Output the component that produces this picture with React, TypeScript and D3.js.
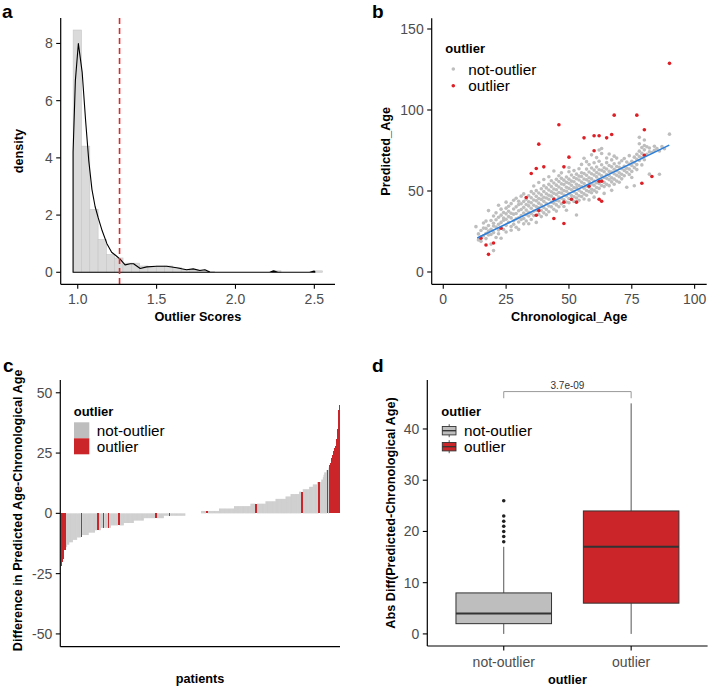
import React from 'react';
import * as d3 from 'd3';

const FONT = '"Liberation Sans", Arial, Helvetica, sans-serif';
const TICK_COL = '#4D4D4D';
const GREY = '#BEBEBE';
const RED_FILL = '#CC2529';
const RED_PT = '#DD1F26';

// ---------------- Panel a: outlier scores ----------------
const histStart = 0.971;
const histBinWidth = 0.0527;
const histDensity = [8.47, 4.41, 2.2, 1.15, 0.62, 0.5, 0.32, 0.32, 0.22, 0.16, 0.22, 0.22, 0.17, 0.1, 0.08, 0.08, 0.03, 0, 0, 0, 0, 0, 0, 0, 0.05, 0, 0, 0, 0, 0.05];
const densX = [0.9705, 0.985, 1.004, 1.028, 1.05, 1.07, 1.09, 1.11, 1.13, 1.155, 1.185, 1.215, 1.245, 1.27, 1.3, 1.333, 1.354, 1.396, 1.438, 1.5, 1.564, 1.627, 1.69, 1.732, 1.774, 1.806, 1.838, 1.87, 2.216, 2.242, 2.269, 2.469, 2.498, 2.503];
const densY = [4.2, 6.7, 8.0, 7.0, 5.3, 3.9, 2.9, 2.3, 1.9, 1.45, 1.0, 0.7, 0.57, 0.45, 0.26, 0.3, 0.3, 0.13, 0.19, 0.21, 0.21, 0.16, 0.09, 0.12, 0.06, 0.09, 0.01, 0, 0, 0.05, 0, 0, 0.04, 0.03];
const cutoffScore = 1.265;
const aXTicks = [1.0, 1.5, 2.0, 2.5];
const aYTicks = [0, 2, 4, 6, 8];

// ---------------- Panel b: scatter ----------------
const outlierPts: [number, number][] = [
  [15, 20.8], [17, 16.7], [18, 10.9], [20, 17.9], [23, 27], [33, 46], [35, 60.8], [37, 63.9], [38, 78.9],
  [37, 35], [38, 37.9], [40, 64.9], [44, 44.9], [44, 33], [46, 90.9], [48, 64.9], [48, 43.1], [48, 29.9],
  [50, 70.9], [51, 44.9], [53, 43.1], [56, 82.8], [58, 53], [60, 84.1], [60, 74.8], [62, 84.1], [62, 56],
  [62, 44.9], [63, 56], [63, 43.7], [65, 82.8], [67, 84.9], [68, 96.8], [77, 96.8], [79, 54.8], [80, 87.8],
  [80, 72.1], [83, 58.9], [90, 128.8],
];
const notOutlierPts: [number, number][] = [
  [13, 28], [14, 23.5], [14, 19.8], [15, 25.6], [15, 21.7], [15, 18.9], [16, 27.1], [16, 22.4], [16, 30.2],
  [17, 23.8], [17, 26.9], [17, 20.6], [17, 31.4], [18, 37.9], [18, 25.2], [18, 22.9], [18, 28.7],
  [19, 26.4], [19, 31.8], [19, 23.1], [19, 17.2], [20, 13.2], [20, 28.4], [20, 34.6], [20, 24.3], [20, 30.1],
  [21, 27.7], [21, 32.2], [21, 21.3], [21, 36.5], [22, 29.5], [22, 33.8], [22, 25.9], [22, 23.6], [22, 41.2],
  [23, 30.6], [23, 35.1], [23, 27.4], [23, 20.8], [23, 38.8], [24, 31.9], [24, 36.7], [24, 26.2], [24, 33.3],
  [25, 43.1], [25, 32.6], [25, 28.8], [25, 35.9], [25, 24.7], [25, 39.4], [26, 34.2], [26, 30.7], [26, 37.5], [26, 40.6],
  [27, 33.4], [27, 28.1], [27, 36.3], [27, 42.2], [27, 25.8], [28, 35.7], [28, 31.6], [28, 38.9], [28, 29.4], [28, 44.3],
  [29, 36.1], [29, 32.8], [29, 40.2], [29, 27.6], [29, 45.5], [30, 37.8], [30, 33.5], [30, 41.6], [30, 30.9], [30, 43.7], [30, 26.3],
  [31, 38.6], [31, 34.9], [31, 42.1], [31, 32.4], [31, 46.8], [32, 36.4], [32, 39.9], [32, 43.5], [32, 33.1], [32, 29.7], [32, 48.2],
  [33, 38.2], [33, 41.7], [33, 35.4], [33, 44.9], [33, 31.5], [34, 40.8], [34, 36.9], [34, 43.3], [34, 47.1], [34, 34.6], [34, 29.8],
  [35, 39.3], [35, 42.7], [35, 36.1], [35, 45.8], [35, 49.6], [35, 32.4], [36, 41.2], [36, 37.6], [36, 44.4], [36, 48.3], [36, 34.8], [36, 53.1],
  [37, 40.4], [37, 43.9], [37, 46.7], [37, 38.1], [37, 50.2], [37, 30.6], [38, 42.5], [38, 45.3], [38, 39.7], [38, 48.8], [38, 35.6], [38, 55.2],
  [39, 41.3], [39, 44.8], [39, 47.6], [39, 37.9], [39, 51.4], [39, 34.2], [40, 43.6], [40, 46.1], [40, 39.8], [40, 49.7], [40, 53.2], [40, 36.5], [40, 57.1],
  [41, 42.2], [41, 45.7], [41, 48.3], [41, 38.6], [41, 51.9], [41, 35.3], [42, 44.9], [42, 47.4], [42, 40.7], [42, 50.6], [42, 54.1], [42, 37.2], [42, 58.8],
  [43, 43.1], [43, 46.8], [43, 49.5], [43, 40.2], [43, 52.7], [43, 56.3], [44, 42.4], [44, 48.6], [44, 51.2], [44, 45.5], [44, 54.9], [44, 38.7], [44, 62.3],
  [45, 44.2], [45, 47.9], [45, 50.8], [45, 41.4], [45, 53.6], [45, 57.2], [45, 37.6], [46, 46.3], [46, 49.1], [46, 43.8], [46, 52.5], [46, 55.9], [46, 40.3], [46, 59.4],
  [47, 45.6], [47, 48.7], [47, 51.3], [47, 42.1], [47, 54.4], [47, 57.8], [47, 61.2], [48, 47.5], [48, 50.2], [48, 53.9], [48, 44.6], [48, 56.7], [48, 40.4],
  [49, 46.9], [49, 49.8], [49, 52.3], [49, 43.2], [49, 55.4], [49, 58.6], [49, 38.1], [50, 48.4], [50, 51.6], [50, 45.3], [50, 54.8], [50, 57.3], [50, 42.7], [50, 61.9], [50, 64.5],
  [51, 47.2], [51, 50.7], [51, 53.5], [51, 44.8], [51, 56.1], [51, 59.9], [52, 49.6], [52, 52.1], [52, 46.4], [52, 55.7], [52, 58.3], [52, 43.5], [52, 62.6],
  [53, 48.3], [53, 51.9], [53, 54.2], [53, 45.7], [53, 57.6], [53, 60.4], [53, 35.2], [54, 50.5], [54, 53.3], [54, 47.1], [54, 56.8], [54, 59.2], [54, 44.3], [54, 63.7],
  [55, 49.2], [55, 52.8], [55, 55.5], [55, 46.6], [55, 58.9], [55, 61.3], [55, 66.4], [56, 51.7], [56, 54.6], [56, 48.2], [56, 57.4], [56, 60.8], [56, 45.1], [56, 70.2],
  [57, 50.3], [57, 53.1], [57, 56.9], [57, 47.4], [57, 59.7], [57, 63.5], [57, 68.1], [58, 52.4], [58, 55.8], [58, 49.6], [58, 58.2], [58, 61.7], [58, 66.3], [58, 44.5],
  [59, 51.1], [59, 54.3], [59, 57.5], [59, 48.9], [59, 60.6], [59, 64.2], [59, 72.3], [60, 53.6], [60, 56.2], [60, 50.4], [60, 59.8], [60, 62.9], [60, 67.4], [60, 46.2],
  [61, 52.2], [61, 55.1], [61, 58.7], [61, 61.4], [61, 64.8], [61, 49.3], [61, 70.6], [62, 75.3], [62, 54.7], [62, 57.2], [62, 60.5], [62, 63.1], [62, 51.6], [62, 68.4],
  [63, 53.4], [63, 56.6], [63, 59.3], [63, 62.8], [63, 66.2], [63, 73.1], [63, 76.2], [64, 55.3], [64, 58.4], [64, 61.9], [64, 52.7], [64, 64.3], [64, 48.5],
  [65, 54.1], [65, 57.8], [65, 60.2], [65, 63.6], [65, 67.5], [65, 70.4], [66, 56.9], [66, 59.5], [66, 62.1], [66, 53.3], [66, 65.7], [66, 72.8],
  [67, 55.6], [67, 58.1], [67, 61.7], [67, 64.9], [67, 69.2], [67, 50.4], [68, 57.3], [68, 60.6], [68, 63.4], [68, 54.2], [68, 66.8], [68, 71.5],
  [69, 56.2], [69, 59.7], [69, 62.5], [69, 65.1], [69, 70.3], [70, 58.8], [70, 61.2], [70, 64.6], [70, 67.3], [70, 55.4],
  [71, 57.5], [71, 60.3], [71, 63.8], [71, 68.7], [72, 59.4], [72, 62.7], [72, 65.2], [72, 70.1], [73, 52.3], [73, 61.6], [73, 64.1], [73, 67.9],
  [74, 60.2], [74, 63.5], [74, 66.6], [74, 71.8], [75, 62.1], [75, 65.8], [75, 68.4], [75, 58.3], [76, 53.2], [76, 64.4], [76, 67.6], [76, 70.9],
  [77, 66.3], [77, 69.5], [77, 72.7], [77, 63.2], [78, 83.1], [78, 68.8], [78, 71.3], [78, 74.6], [78, 79.2], [79, 70.5], [79, 73.2], [79, 76.8], [79, 66.1],
  [80, 75.4], [80, 78.1], [80, 69.3], [80, 81.5], [81, 72.6], [81, 77.3], [82, 60.4], [82, 74.2], [82, 76.5], [83, 73.8], [84, 75.1], [84, 77.6],
  [85, 76.2], [86, 60.3], [86, 74.7], [87, 77.4], [88, 76.1], [90, 85.1],
];
const fitX = [13.5, 89.9];
const fitY = [21.0, 78.3];
const bXTicks = [0, 25, 50, 75, 100];
const bYTicks = [0, 50, 100, 150];

// ---------------- Panel c: sorted differences ----------------
const diffLevels = [-24, -22, -20, -19, -17, -15, -14, -13, -12, -11, -10, -9, -8, -7, -6, -5, -4, -3, -2, -1, 0,
  1, 2, 3, 4, 5, 6, 7, 8, 9, 10, 11, 12, 13, 14, 15, 16, 17, 18, 19, 20, 21, 22, 23, 24, 25, 26, 27, 28, 29, 31, 35, 40, 43, 45];
const diffCounts = [1, 1, 1, 1, 1, 2, 2, 3, 5, 6, 7, 9, 9, 8, 14, 18, 14, 14, 28, 30, 22,
  25, 21, 23, 21, 14, 14, 7, 12, 5, 9, 5, 6, 6, 2, 1, 1, 3, 3, 1, 1, 1, 1, 1, 1, 1, 1, 1, 1, 1, 1, 1, 1, 1, 1];
const outlierBarIdx = [0, 1, 2, 3, 4, 5, 6, 28, 29, 51, 52, 59, 60, 66, 67, 80, 81, 132, 133, 151, 152, 203, 204, 272, 273, 336, 337,
  360, 361, 372, 375, 376, 377, 378, 379, 380, 381, 382, 383, 384, 385, 386, 387, 388, 389];
const cYTicks = [-50, -25, 0, 25, 50];

// ---------------- Panel d: boxplot ----------------
const groups = ['not-outlier', 'outlier'];
const boxLow = [0, 0];
const boxQ1 = [2, 6];
const boxMed = [4, 17];
const boxQ3 = [8, 24];
const boxHigh = [17, 45];
const notOutlierFliers = [18, 19, 20, 21, 22, 23, 26];
const pLabel = '3.7e-09';
const bracketTop = 47.3;
const bracketFoot = 46.0;
const dYTicks = [0, 10, 20, 30, 40];

const legendLabels = ['not-outlier', 'outlier'];

function YAxis({ x, top, bottom, scale, ticks, fmt }: any) {
  return (
    <g>
      <line x1={x} x2={x} y1={top} y2={bottom} stroke="#000" strokeWidth={1.2} />
      {ticks.map((t: number) => (
        <g key={t}>
          <line x1={x - 4.5} x2={x} y1={scale(t)} y2={scale(t)} stroke="#000" strokeWidth={1.1} />
          <text x={x - 8} y={scale(t)} dy="0.36em" textAnchor="end" fontSize={14} fill={TICK_COL}>{fmt ? fmt(t) : t}</text>
        </g>
      ))}
    </g>
  );
}

function XAxis({ y, left, right, scale, ticks, fmt, labelY }: any) {
  return (
    <g>
      <line x1={left} x2={right} y1={y} y2={y} stroke="#000" strokeWidth={1.2} />
      {ticks.map((t: any) => (
        <g key={String(t)}>
          <line x1={scale(t)} x2={scale(t)} y1={y} y2={y + 4.5} stroke="#000" strokeWidth={1.1} />
          <text x={scale(t)} y={labelY} textAnchor="middle" fontSize={14} fill={TICK_COL}>{fmt ? fmt(t) : t}</text>
        </g>
      ))}
    </g>
  );
}

function PanelA() {
  const left = 60.7, right = 335, top = 18, bottom = 284.3;
  const x = d3.scaleLinear().domain([0.892, 2.631]).range([left, right]);
  const y = d3.scaleLinear().domain([-0.42, 8.89]).range([bottom, top]);
  const pts: [number, number][] = densX.map((d, i) => [x(d), y(densY[i])]);
  const poly = [[x(densX[0]), y(0)] as [number, number], ...pts, [x(densX[densX.length - 1]), y(0)] as [number, number]];
  const linePath = d3.line()(poly) + 'Z';
  return (
    <g>
      {histDensity.map((h, i) => {
        const x0 = histStart + i * histBinWidth;
        return (
          <rect key={i} x={x(x0)} width={x(x0 + histBinWidth) - x(x0)} y={y(h)} height={y(0) - y(h)}
            fill="#DADADA" stroke="#C6C6C6" strokeWidth={0.6} />
        );
      })}
      <path d={linePath} fill="none" stroke="#000" strokeWidth={1.1} strokeLinejoin="round" />
      <line x1={x(cutoffScore)} x2={x(cutoffScore)} y1={top} y2={bottom} stroke="#E02A2A" strokeWidth={1.6} strokeDasharray="6,4" />
      <YAxis x={left} top={top} bottom={bottom} scale={y} ticks={aYTicks} />
      <XAxis y={bottom} left={left} right={right} scale={x} ticks={aXTicks} fmt={d3.format('.1f')} labelY={304} />
      <text x={(left + right) / 2} y={321} textAnchor="middle" fontSize={12.7} fontWeight="bold">Outlier Scores</text>
      <text transform={`translate(22.5,${(top + bottom) / 2}) rotate(-90)`} textAnchor="middle" fontSize={12.7} fontWeight="bold">density</text>
      <text x={2} y={18} fontSize={19} fontWeight="bold">a</text>
    </g>
  );
}

function PanelB() {
  const left = 431.7, right = 706.7, top = 18.3, bottom = 284.3;
  const x = d3.scaleLinear().domain([-4.6, 104.8]).range([left, right]);
  const y = d3.scaleLinear().domain([-7.6, 156.6]).range([bottom, top]);
  const fit = d3.line()(fitX.map((v, i) => [x(v), y(fitY[i])] as [number, number]));
  return (
    <g>
      {notOutlierPts.map((p, i) => (
        <circle key={'g' + i} cx={x(p[0])} cy={y(p[1])} r={1.8} fill={GREY} />
      ))}
      {outlierPts.map((p, i) => (
        <circle key={'r' + i} cx={x(p[0])} cy={y(p[1])} r={1.8} fill={RED_PT} />
      ))}
      <path d={fit || ''} stroke="#2B7FDB" strokeWidth={1.6} fill="none" />
      <YAxis x={left} top={top} bottom={bottom} scale={y} ticks={bYTicks} />
      <XAxis y={bottom} left={left} right={right} scale={x} ticks={bXTicks} labelY={304} />
      <text x={(left + right) / 2} y={321} textAnchor="middle" fontSize={12.7} fontWeight="bold">Chronological_Age</text>
      <text transform={`translate(390,${(top + bottom) / 2}) rotate(-90)`} textAnchor="middle" fontSize={12.7} fontWeight="bold">Predicted_Age</text>
      <text x={445.3} y={53} fontSize={13} fontWeight="bold">outlier</text>
      {legendLabels.map((l, i) => (
        <g key={l}>
          <circle cx={453.3} cy={69 + i * 16.7} r={1.8} fill={i === 0 ? GREY : RED_PT} />
          <text x={468.3} y={69 + i * 16.7} dy="0.36em" fontSize={15.3}>{l}</text>
        </g>
      ))}
      <text x={372} y={18} fontSize={19} fontWeight="bold">b</text>
    </g>
  );
}

function PanelC() {
  const left = 60.3, right = 340, top = 380, bottom = 646.7;
  const values: number[] = [];
  diffLevels.forEach((v, i) => { for (let k = 0; k < diffCounts[i]; k++) values.push(v); });
  const outSet = new Set(outlierBarIdx);
  const x = d3.scaleBand<number>().domain(values.map((_, i) => i)).range([left + 0.4, right]).paddingInner(0.1);
  const y = d3.scaleLinear().domain([-55.3, 55.3]).range([bottom, top]);
  return (
    <g>
      {values.map((v, i) => (
        outSet.has(i) ? null :
          <rect key={i} x={x(i)} width={x.bandwidth()} y={Math.min(y(v), y(0))} height={Math.abs(y(v) - y(0))}
            fill={GREY} />
      ))}
      {values.map((v, i) => (
        outSet.has(i) ?
          <rect key={'r' + i} x={x(i)! - 0.15} width={x.bandwidth() + 0.3} y={Math.min(y(v), y(0))} height={Math.abs(y(v) - y(0))}
            fill={RED_FILL} shapeRendering="crispEdges" /> : null
      ))}
      <YAxis x={left} top={top} bottom={bottom} scale={y} ticks={cYTicks} />
      <line x1={left} x2={right} y1={bottom} y2={bottom} stroke="#000" strokeWidth={1.2} />
      <text x={200} y={683} textAnchor="middle" fontSize={12.7} fontWeight="bold">patients</text>
      <text transform={`translate(22,${(top + bottom) / 2 - 3}) rotate(-90)`} textAnchor="middle" fontSize={12.7} fontWeight="bold">Difference in Predicted Age-Chronological Age</text>
      <text x={73.7} y={416} fontSize={13} fontWeight="bold">outlier</text>
      {legendLabels.map((l, i) => (
        <g key={l}>
          <rect x={74} y={422.3 + i * 16} width={15.3} height={16} fill={i === 0 ? GREY : RED_FILL} />
          <text x={96.7} y={430.3 + i * 16} dy="0.36em" fontSize={15.3}>{l}</text>
        </g>
      ))}
      <text x={3} y={372} fontSize={19} fontWeight="bold">c</text>
    </g>
  );
}

function PanelD() {
  const left = 427.3, right = 707.6, top = 380, bottom = 646;
  const x = d3.scalePoint<string>().domain(groups).range([left, right]).padding(0.6);
  const y = d3.scaleLinear().domain([-2.36, 49.56]).range([bottom, top]);
  const step = x.step();
  const bw = step * 0.75;
  const fills = [GREY, RED_FILL];
  const xa = x(groups[0])!, xb = x(groups[1])!;
  return (
    <g>
      {groups.map((g, i) => {
        const cx = x(g)!;
        return (
          <g key={g}>
            <line x1={cx} x2={cx} y1={y(boxLow[i])} y2={y(boxQ1[i])} stroke="#555" strokeWidth={1} />
            <line x1={cx} x2={cx} y1={y(boxQ3[i])} y2={y(boxHigh[i])} stroke="#555" strokeWidth={1} />
            <rect x={cx - bw / 2} width={bw} y={y(boxQ3[i])} height={y(boxQ1[i]) - y(boxQ3[i])} fill={fills[i]} stroke="#333" strokeWidth={1} />
            <line x1={cx - bw / 2} x2={cx + bw / 2} y1={y(boxMed[i])} y2={y(boxMed[i])} stroke="#333" strokeWidth={2} />
          </g>
        );
      })}
      {notOutlierFliers.map((v, i) => (
        <circle key={i} cx={xa} cy={y(v)} r={1.8} fill="#222" />
      ))}
      <path d={`M${xa},${y(bracketFoot)}V${y(bracketTop)}H${xb}V${y(bracketFoot)}`} fill="none" stroke="#999" strokeWidth={1} />
      <text x={(xa + xb) / 2} y={y(bracketTop) - 2.5} textAnchor="middle" fontSize={10} fill="#333">{pLabel}</text>
      <YAxis x={left} top={top} bottom={bottom} scale={y} ticks={dYTicks} />
      <XAxis y={bottom} left={left} right={right} scale={(g: string) => x(g)} ticks={groups} labelY={667} />
      <text x={(left + right) / 2} y={684} textAnchor="middle" fontSize={12.7} fontWeight="bold">outlier</text>
      <text transform={`translate(395,${(top + bottom) / 2}) rotate(-90)`} textAnchor="middle" fontSize={12.7} fontWeight="bold">Abs Diff(Predicted-Chronological Age)</text>
      <text x={441.3} y={416} fontSize={13} fontWeight="bold">outlier</text>
      {legendLabels.map((l, i) => {
        const cy = 430.7 + i * 16;
        return (
          <g key={l}>
            <line x1={449.2} x2={449.2} y1={cy - 6.5} y2={cy + 6.5} stroke="#555" strokeWidth={1} />
            <rect x={442.3} y={cy - 4.2} width={13.7} height={8.4} fill={fills[i]} stroke="#333" strokeWidth={0.9} />
            <line x1={442.3} x2={456} y1={cy} y2={cy} stroke="#333" strokeWidth={1.3} />
            <text x={464} y={cy} dy="0.36em" fontSize={15.3}>{l}</text>
          </g>
        );
      })}
      <text x={372} y={372} fontSize={19} fontWeight="bold">d</text>
    </g>
  );
}

export default function App() {
  return (
    <svg width={709} height={689} style={{ position: 'absolute', left: 0, top: 0, background: '#fff' }}
      fontFamily={FONT}>
      <rect width={709} height={689} fill="#fff" />
      <PanelA />
      <PanelB />
      <PanelC />
      <PanelD />
    </svg>
  );
}
